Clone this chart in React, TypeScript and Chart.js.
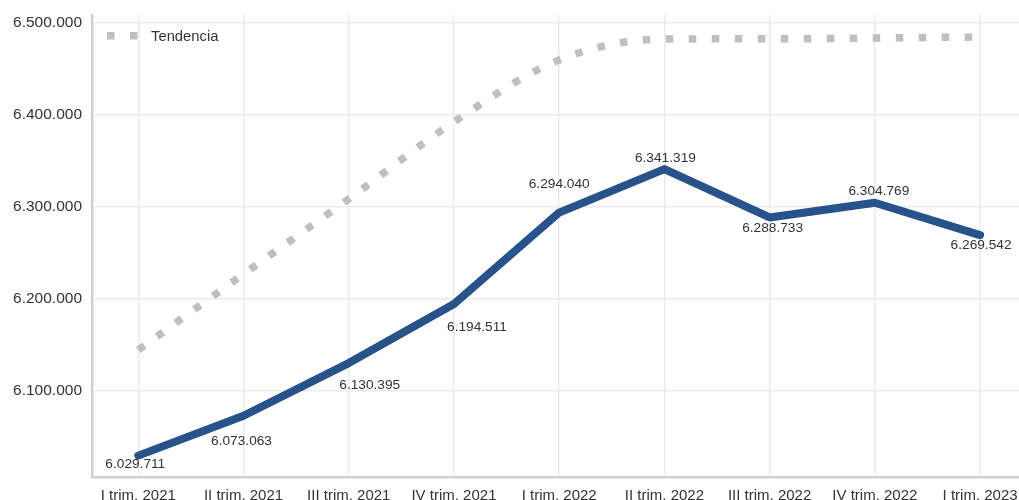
import React, { useEffect, useRef } from "react";
import { Chart, registerables } from "chart.js";

Chart.register(...registerables);

const categories = [
  "I trim. 2021",
  "II trim. 2021",
  "III trim. 2021",
  "IV trim. 2021",
  "I trim. 2022",
  "II trim. 2022",
  "III trim. 2022",
  "IV trim. 2022",
  "I trim. 2023",
];
const afiliados = [6029711, 6073063, 6130395, 6194511, 6294040, 6341319, 6288733, 6304769, 6269542];
const tendencia = [6144600, 6227200, 6308800, 6392600, 6460000, 6482800, 6483000, 6483900, 6485000];
const yTicks = [6100000, 6200000, 6300000, 6400000, 6500000];
const trendLabel = "Tendencia";
// label placement (dx, dy) relative to each point
const labelOffsets = [
  [-3, 9],
  [-2, 25],
  [21, 22],
  [23, 23],
  [0, -28],
  [1, -11],
  [3, 11],
  [4, -11],
  [1, 10],
];

const FONT = '"Liberation Sans", Arial, sans-serif';
const fmt = (n: number) => String(Math.round(n)).replace(/\B(?=(\d{3})+(?!\d))/g, ".");

const labelPlugin = {
  id: "labelsAndLegend",
  afterDatasetsDraw(chart: any) {
    const ctx = chart.ctx;
    const meta = chart.getDatasetMeta(0);
    ctx.save();
    ctx.font = `13.7px ${FONT}`;
    ctx.fillStyle = "#333333";
    ctx.textAlign = "center";
    ctx.textBaseline = "middle";
    meta.data.forEach((p: any, i: number) => {
      const [dx, dy] = labelOffsets[i];
      ctx.fillText(fmt(afiliados[i]), p.x + dx, p.y + dy);
    });
    // legend
    const ca = chart.chartArea;
    ctx.fillStyle = "#bfbfbf";
    ctx.fillRect(ca.left + 15, 32, 7.5, 7.5);
    ctx.fillRect(ca.left + 38, 32, 7.5, 7.5);
    ctx.fillStyle = "#333333";
    ctx.textAlign = "left";
    ctx.font = `14.8px ${FONT}`;
    ctx.fillText(trendLabel, ca.left + 59, 36.5);
    ctx.restore();
  },
};

const zeroPad = (s: any) => {
  s.paddingTop = 0;
  s.paddingBottom = 0;
  s.paddingLeft = 0;
  s.paddingRight = 0;
};

export default function App() {
  const ref = useRef<HTMLCanvasElement | null>(null);
  useEffect(() => {
    if (!ref.current) return;
    const chart = new Chart(ref.current, {
      type: "line",
      data: {
        labels: categories,
        datasets: [
          {
            label: "Afiliados",
            data: afiliados.map((v, i) => ({ x: i, y: v })),
            borderColor: "#27528a",
            borderWidth: 8,
            borderCapStyle: "round",
            borderJoinStyle: "round",
            pointRadius: 0,
            tension: 0,
            fill: false,
          },
          {
            label: trendLabel,
            data: tendencia.map((v, i) => ({ x: i, y: v })),
            borderColor: "#bfbfbf",
            borderWidth: 7.5,
            borderDash: [7.5, 15.5],
            borderCapStyle: "butt",
            pointRadius: 0,
            cubicInterpolationMode: "monotone",
            fill: false,
          },
        ],
      },
      options: {
        responsive: false,
        animation: false,
        layout: { padding: { top: 15, right: 0, left: 0, bottom: 0 } },
        plugins: { legend: { display: false }, tooltip: { enabled: false } },
        scales: {
          x: {
            type: "linear",
            min: -0.44,
            max: 8.37,
            afterBuildTicks: (s: any) => {
              s.ticks = categories.map((_, i) => ({ value: i }));
            },
            afterFit: (s: any) => {
              s.height = 23;
              zeroPad(s);
            },
            ticks: {
              callback: (v: any) => categories[v] ?? "",
              autoSkip: false,
              maxRotation: 0,
              padding: 10,
              color: "#333333",
              font: { family: FONT, size: 15 },
            },
            grid: { color: "#ebebeb", lineWidth: 1.5, drawTicks: false },
            border: { color: "#d0d0d0", width: 2.5 },
          },
          y: {
            min: 6006470,
            max: 6508920,
            afterBuildTicks: (s: any) => {
              s.ticks = yTicks.map((v) => ({ value: v }));
            },
            afterFit: (s: any) => {
              s.width = 92;
              zeroPad(s);
            },
            ticks: {
              callback: (v: any) => fmt(v),
              padding: 10,
              color: "#333333",
              font: { family: FONT, size: 15.5 },
            },
            grid: { color: "#ebebeb", lineWidth: 1.5, drawTicks: false },
            border: { color: "#d0d0d0", width: 2.5 },
          },
        },
      },
      plugins: [labelPlugin],
    } as any);
    return () => chart.destroy();
  }, []);
  return (
    <div style={{ position: "fixed", left: 0, top: 0, width: 1019, height: 500, background: "#ffffff" }}>
      <canvas ref={ref} width={1019} height={500} style={{ display: "block" }} />
    </div>
  );
}
